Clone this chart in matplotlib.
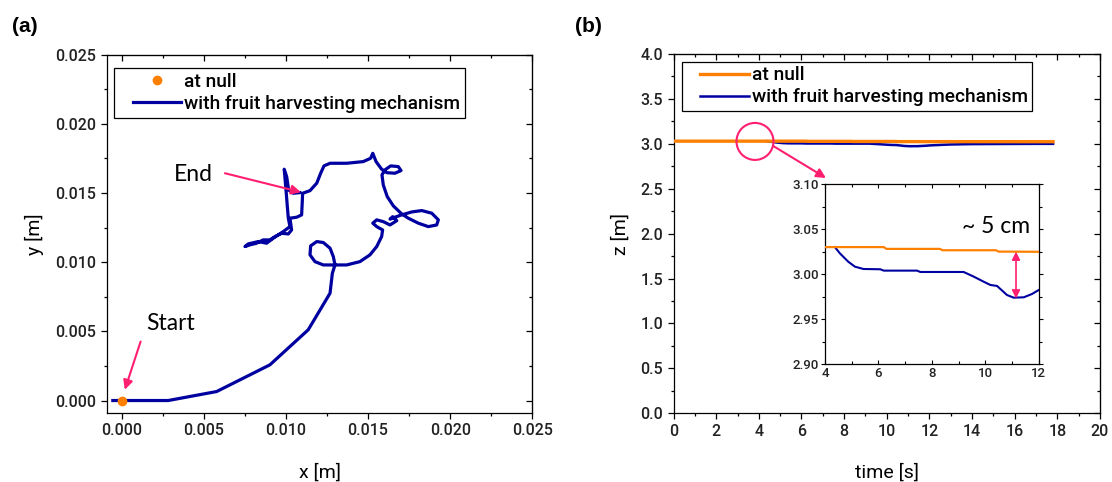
import numpy as np
import matplotlib
matplotlib.use("Agg")
import matplotlib.pyplot as plt
from matplotlib.ticker import MultipleLocator, FormatStrFormatter
from matplotlib.patches import Ellipse
from matplotlib.legend_handler import HandlerLine2D

plt.rcParams['font.family'] = ['Roboto', 'DejaVu Sans']
plt.rcParams['font.weight'] = 'medium'

# ---------------- data ----------------
# panel (a): trajectory in the x-y plane (values in mm)
x_traj_mm = [-0.53, 0.00, 2.84, 5.79, 9.03, 11.36, 12.69, 12.83, 12.99,
             12.89, 12.69, 12.28, 11.88, 11.51, 11.47, 11.77, 12.28, 13.09,
             13.70, 14.51, 15.12, 15.53, 15.83, 15.89,
             15.53, 15.29, 15.53, 15.93, 16.34, 16.75, 16.50, 16.34, 16.64,
             17.05, 17.66, 18.27, 18.88, 19.28, 19.18, 18.67, 18.06, 17.45, 17.05,
             16.54, 16.17, 15.93, 15.85,
             16.03, 16.38, 16.84, 17.01, 16.64, 16.14, 15.83, 15.49, 15.29,
             15.16, 14.71, 13.70, 12.69, 12.32, 12.12, 11.88, 11.47, 11.02,
             11.00, 10.96, 10.66, 10.25, 10.35, 10.15, 9.74, 9.34, 9.03, 8.62,
             8.22, 7.81, 7.51,
             7.71, 8.32, 8.83, 9.23, 9.84, 10.25, 10.15, 10.09, 10.01, 9.90,
             10.05, 10.17, 10.45, 10.86]
y_traj_mm = [0.00, 0.00, 0.00, 0.65, 2.58, 5.11, 7.76, 9.20, 9.80,
             10.40, 11.01, 11.42, 11.49, 11.18, 10.53, 10.04, 9.80, 9.80,
             9.80, 10.04, 10.53, 11.13, 11.85, 12.33,
             12.57, 12.82, 13.06, 12.93, 12.69, 13.00, 13.29, 13.11, 13.25,
             13.42, 13.63, 13.73, 13.54, 13.06, 12.69, 12.57, 12.82, 13.18, 13.49,
             14.07, 14.74, 15.58, 16.31,
             16.67, 16.96, 16.91, 16.62, 16.43, 16.47, 16.72, 17.27, 17.87,
             17.51, 17.27, 17.15, 17.15, 16.96, 16.43, 15.71, 15.17, 14.98,
             14.38, 13.42, 13.25, 13.18, 12.33, 12.04, 12.09, 11.85, 11.61, 11.61,
             11.37, 11.25, 11.13,
             11.32, 11.49, 11.37, 11.73, 12.21, 12.57, 13.18, 14.02, 15.22, 16.72,
             16.18, 15.22, 14.98, 15.03]
x_null = [0.0]
y_null = [0.0]

# panel (b): z over time
t_null = [0.0, 6.2, 6.3, 8.3, 8.4, 10.4, 10.5, 17.8]
z_null = [3.030, 3.030, 3.028, 3.028, 3.0265, 3.0265, 3.025, 3.024]

t_fhm = [4.37, 4.56, 4.87, 5.12, 5.44, 6.07, 6.20, 7.44, 7.57, 9.19, 9.57,
         9.94, 10.19, 10.44, 10.81, 11.06, 11.44, 11.75, 12.0, 12.5, 13.0,
         14.0, 15.0, 16.0, 17.0, 17.8]
z_fhm = [3.030, 3.023, 3.0138, 3.0083, 3.0057, 3.0054, 3.0039, 3.0039, 3.0024,
         3.0024, 2.9972, 2.9916, 2.988, 2.9869, 2.9769, 2.9739, 2.9743, 2.978,
         2.9824, 2.988, 2.993, 2.997, 2.998, 2.999, 3.000, 3.000]

label_null = "at null"
label_fhm = "with fruit harvesting mechanism"

ORANGE = '#FF8000'
BLUE = '#0000A0'
PINK = '#FF1F70'
TICKC = '#222222'
TICKFS = 11.5
LEGFS = 13.8

fig = plt.figure(figsize=(11.12, 4.82), dpi=100)


def style_axes(ax, xmaj, xmin, ymaj, ymin, fs=TICKFS, mlen=4, nlen=2.2):
    ax.xaxis.set_major_locator(MultipleLocator(xmaj))
    ax.xaxis.set_minor_locator(MultipleLocator(xmin))
    ax.yaxis.set_major_locator(MultipleLocator(ymaj))
    ax.yaxis.set_minor_locator(MultipleLocator(ymin))
    ax.tick_params(which='both', direction='out', labelsize=fs,
                   labelcolor=TICKC, width=0.9)
    ax.tick_params(which='major', length=mlen)
    ax.tick_params(which='minor', length=nlen)
    for s in ax.spines.values():
        s.set_linewidth(0.9)
    # mirrored ticks pointing inwards
    sx = ax.secondary_xaxis('top')
    sx.xaxis.set_major_locator(MultipleLocator(xmaj))
    sx.xaxis.set_minor_locator(MultipleLocator(xmin))
    sx.tick_params(which='both', direction='in', labeltop=False, width=0.9)
    sx.tick_params(which='major', length=mlen)
    sx.tick_params(which='minor', length=nlen)
    sy = ax.secondary_yaxis('right')
    sy.yaxis.set_major_locator(MultipleLocator(ymaj))
    sy.yaxis.set_minor_locator(MultipleLocator(ymin))
    sy.tick_params(which='both', direction='in', labelright=False, width=0.9)
    sy.tick_params(which='major', length=mlen)
    sy.tick_params(which='minor', length=nlen)
    return sx, sy


def pink_arrow(ax, tail, tip, style='-|>', lw=1.5, ms=14):
    ax.annotate('', xy=tip, xytext=tail,
                arrowprops=dict(arrowstyle=style, color=PINK, lw=lw,
                                mutation_scale=ms, shrinkA=0, shrinkB=0))


def make_legend(handles, anchor):
    hm = {h: HandlerLine2D(xpad=0.73) for h in handles}
    leg = fig.legend(handles=handles, labels=[label_null, label_fhm],
                     loc='upper left', bbox_to_anchor=anchor,
                     fontsize=LEGFS, frameon=True, fancybox=False, framealpha=1,
                     edgecolor='black', handlelength=3.25, handletextpad=0.15,
                     borderpad=0.25, labelspacing=0.2, borderaxespad=0,
                     handler_map=hm)
    leg.get_frame().set_linewidth(0.9)
    return leg


# ---------------- panel (a) ----------------
axa = fig.add_axes([0.0960, 0.1432, 0.3827, 0.7434])
x_traj = np.array(x_traj_mm) * 1e-3
y_traj = np.array(y_traj_mm) * 1e-3
la1, = axa.plot(x_null, y_null, 'o', color=ORANGE, ms=6, zorder=4, label=label_null)
la2, = axa.plot(x_traj, y_traj, '-', color=BLUE, lw=2.3, zorder=3, label=label_fhm,
                solid_joinstyle='round')
axa.set_xlim(-0.0009, 0.025)
axa.set_ylim(-0.0009, 0.025)
axa.xaxis.set_major_formatter(FormatStrFormatter('%.3f'))
axa.yaxis.set_major_formatter(FormatStrFormatter('%.3f'))
style_axes(axa, 0.005, 0.0025, 0.005, 0.0025)
axa.set_xlabel('x [m]', fontsize=14, labelpad=18)
axa.set_ylabel('y [m]', fontsize=14, labelpad=8)

axa.text(0.00436, 0.01631, 'End', fontsize=16.5, family='Lato', weight='normal',
         ha='center', va='center')
pink_arrow(axa, (0.00629, 0.01643), (0.01092, 0.01506))
axa.text(0.00299, 0.00554, 'Start', fontsize=16.5, family='Lato', weight='normal',
         ha='center', va='center')
pink_arrow(axa, (0.00116, 0.00426), (0.0002, 0.00078))

make_legend([la1, la2], (0.1025, 0.8583))

fig.text(0.0225, 0.944, '(a)', fontsize=15, fontweight='bold',
         family='Liberation Sans', ha='center', va='center')

# ---------------- panel (b) ----------------
axb = fig.add_axes([0.6057, 0.1425, 0.3835, 0.7454])
lb2, = axb.plot(t_fhm, z_fhm, '-', color=BLUE, lw=1.8, zorder=3, label=label_fhm)
lb1, = axb.plot(t_null, z_null, '-', color=ORANGE, lw=2.4, zorder=4, label=label_null)
axb.set_xlim(0, 20)
axb.set_ylim(0, 4)
axb.yaxis.set_major_formatter(FormatStrFormatter('%.1f'))
style_axes(axb, 2, 1, 0.5, 0.25)
axb.set_xlabel('time [s]', fontsize=14, labelpad=18)
axb.set_ylabel('z [m]', fontsize=14, labelpad=8)

axb.add_patch(Ellipse((3.82, 3.027), 1.735, 0.412, fill=False,
                      edgecolor=PINK, lw=1.5, zorder=5))
pink_arrow(axb, (4.67, 2.977), (7.15, 2.62))

make_legend([lb1, lb2], (0.6130, 0.872))

fig.text(0.529, 0.944, '(b)', fontsize=15, fontweight='bold',
         family='Liberation Sans', ha='center', va='center')

# ---------------- inset ----------------
axi = fig.add_axes([0.7419, 0.2442, 0.1922, 0.3741])
axi.plot(t_fhm, z_fhm, '-', color=BLUE, lw=1.5, zorder=3)
axi.plot(t_null, z_null, '-', color=ORANGE, lw=1.6, zorder=4)
axi.set_xlim(4, 12)
axi.set_ylim(2.90, 3.10)
axi.xaxis.set_major_locator(MultipleLocator(2))
axi.xaxis.set_minor_locator(MultipleLocator(1))
axi.yaxis.set_major_locator(MultipleLocator(0.05))
axi.yaxis.set_minor_locator(MultipleLocator(0.025))
axi.yaxis.set_major_formatter(FormatStrFormatter('%.2f'))
axi.tick_params(which='both', labelsize=9.5, labelcolor=TICKC, width=0.8,
                top=True, right=True)
axi.tick_params(axis='x', which='both', direction='in', pad=2)
axi.tick_params(axis='y', which='both', direction='out', pad=1.5)
axi.tick_params(which='major', length=3)
axi.tick_params(which='minor', length=2)
for s in axi.spines.values():
    s.set_linewidth(0.9)

pink_arrow(axi, (11.15, 3.025), (11.15, 2.973), style='<|-|>', lw=1.2, ms=12)
axi.text(10.4, 3.0527, '~ 5 cm', fontsize=16.5, family='Lato', weight='normal',
         ha='center', va='center')

fig.savefig('out.png', dpi=100)
